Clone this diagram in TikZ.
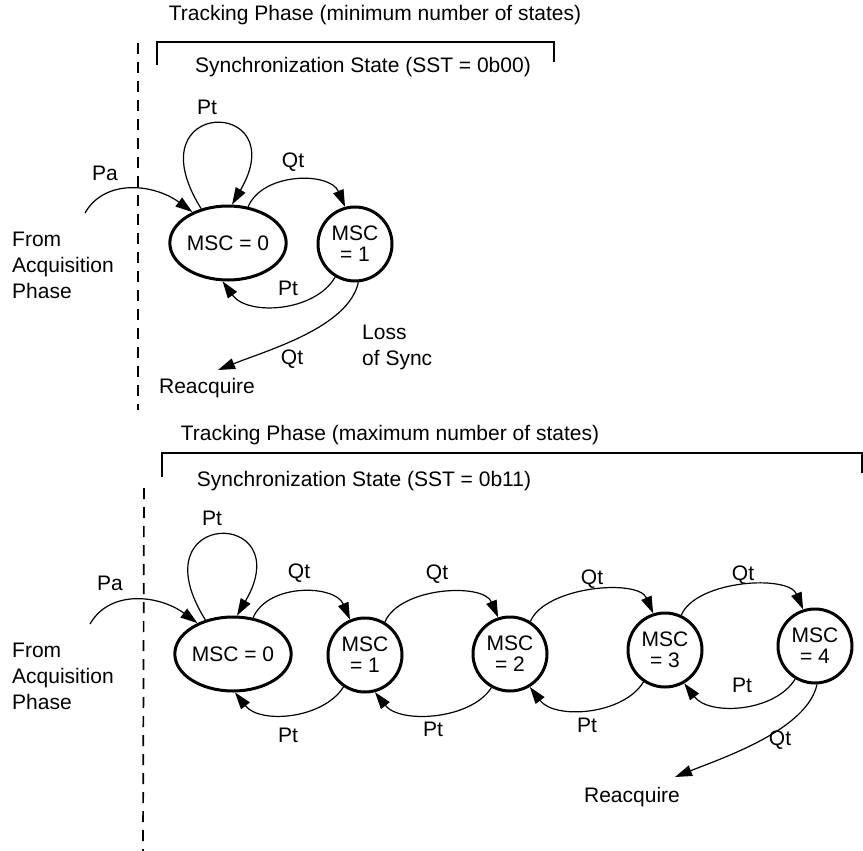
\documentclass[tikz,border=0pt]{standalone}
\usepackage{fontspec}
\setmainfont{Liberation Sans}
\usetikzlibrary{arrows.meta,shapes.geometric}

\begin{document}
\begin{tikzpicture}[x=1pt,y=-1pt,
  font={\fontsize{21}{26}\selectfont},
  state/.style={draw, line width=3pt, inner sep=0pt, align=center, font={\fontsize{21}{21}\selectfont}},
  oval/.style={state, ellipse, minimum width=114pt, minimum height=74pt},
  ring/.style={state, circle, minimum size=74pt},
  lbl/.style={inner sep=0pt},
  arr/.style={line width=1.2pt, -{Triangle[length=17pt,width=11pt]}},
  brk/.style={line width=1.3pt},
  phase/.style={line width=1.7pt, dash pattern=on 11pt off 8pt}]
\useasboundingbox (0,0) rectangle (863,851);

% minimum number of states
\node[lbl] (title1) at (375,15) {Tracking Phase (minimum number of states)};
\draw[brk] (157,65) -- (157,42) -- (554,42) -- (554,62);
\node[lbl] (sst1) at (363,67) {Synchronization State (SST = 0b00)};
\draw[phase] (138,43) -- (138,410);
\node[oval] (s0) at (228,243) {MSC = 0};
\node[ring] (s1) at (355,244) {MSC\\= 1};
\node[lbl, align=left, anchor=west] (from1) at (12,265) {From\\Acquisition\\Phase};
\node[lbl] (rq1) at (207,388) {Reacquire};
\coordinate (pa1) at (85,213);
\coordinate (rq1in) at (218,370);
\draw[arr] (pa1) .. controls +(20,-35) and +(-38,-28) .. (s0.139);
\draw[arr] (s0.128) .. controls +(-70,-112) and +(63,-108) .. (s0.84);
\draw[arr] (s0.61) .. controls +(15,-35) and +(-15,-35) .. (s1.105);
\draw[arr] (s1.-121) .. controls +(-20,35) and +(25,35) .. (s0.-98);
\draw[arr] (s1.-85) .. controls +(-10,45) and +(50,-20) .. (rq1in);
\node[lbl] (pa1l) at (105,173) {Pa};
\node[lbl] (pt1a) at (207,107) {Pt};
\node[lbl] (qt1a) at (293,162) {Qt};
\node[lbl] (pt1b) at (288,288) {Pt};
\node[lbl] (qt1b) at (292,359) {Qt};
\node[lbl, align=left, anchor=west] (loss1) at (362,347) {Loss\\of Sync};

% maximum number of states
\node[lbl] (title2) at (390,435) {Tracking Phase (maximum number of states)};
\draw[brk] (162,477) -- (162,453) -- (862,453) -- (862,473);
\node[lbl] (sst2) at (364,481) {Synchronization State (SST = 0b11)};
\draw[phase] (144,488) -- (143,851);
\node[oval] (b0) at (233,654) {MSC = 0};
\node[ring] (b1) at (365,655) {MSC\\= 1};
\node[ring] (b2) at (510,654) {MSC\\= 2};
\node[ring] (b3) at (665,650) {MSC\\= 3};
\node[ring] (b4) at (815,646) {MSC\\= 4};
\node[lbl, align=left, anchor=west] (from2) at (12,676) {From\\Acquisition\\Phase};
\node[lbl] (rq2) at (632,797) {Reacquire};
\coordinate (pa2) at (90,624);
\coordinate (rq2in) at (675,777);
\draw[arr] (pa2) .. controls +(20,-35) and +(-38,-28) .. (b0.139);
\draw[arr] (b0.129) .. controls +(-70,-112) and +(63,-108) .. (b0.84);
\draw[arr] (b0.61) .. controls +(15,-35) and +(-15,-35) .. (b1.113);
\draw[arr] (b1.59) .. controls +(15,-35) and +(-15,-35) .. (b2.108);
\draw[arr] (b2.58) .. controls +(15,-35) and +(-15,-35) .. (b3.108);
\draw[arr] (b3.65) .. controls +(15,-35) and +(-15,-35) .. (b4.108);
\draw[arr] (b1.-124) .. controls +(-20,32) and +(25,32) .. (b0.-87);
\draw[arr] (b2.-119) .. controls +(-20,32) and +(25,32) .. (b1.-75);
\draw[arr] (b3.-124) .. controls +(-20,33) and +(25,33) .. (b2.-59);
\draw[arr] (b4.-121) .. controls +(-20,33) and +(25,33) .. (b3.-60);
\draw[arr] (b4.-87) .. controls +(-10,45) and +(50,-20) .. (rq2in);
\node[lbl] (pa2l) at (110,583) {Pa};
\node[lbl] (pt2a) at (212,518) {Pt};
\node[lbl] (qt2a) at (299,573) {Qt};
\node[lbl] (qt2b) at (437,574) {Qt};
\node[lbl] (qt2c) at (592,579) {Qt};
\node[lbl] (qt2d) at (743,575) {Qt};
\node[lbl] (pt2b) at (288,735) {Pt};
\node[lbl] (pt2c) at (433,729) {Pt};
\node[lbl] (pt2d) at (587,725) {Pt};
\node[lbl] (pt2e) at (742,685) {Pt};
\node[lbl] (qt2e) at (780,740) {Qt};
\end{tikzpicture}
\end{document}
